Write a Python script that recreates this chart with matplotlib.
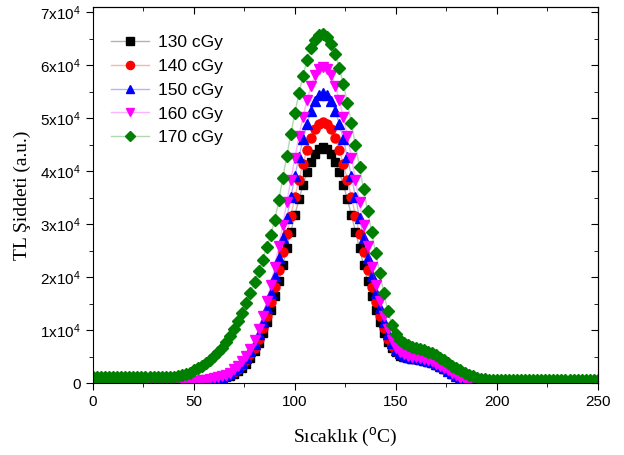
import matplotlib
matplotlib.use('Agg')
import matplotlib.pyplot as plt
import numpy as np
from matplotlib.ticker import MultipleLocator, FuncFormatter

plt.rcParams['font.family'] = ['Liberation Sans', 'DejaVu Sans']
plt.rcParams['mathtext.fontset'] = 'custom'
plt.rcParams['mathtext.rm'] = 'Liberation Sans'
plt.rcParams['mathtext.it'] = 'Liberation Sans'

# temperature (C), 2 degree steps
temp = np.arange(0, 251, 2)

# intensities in units of 1e3 a.u.
cgy130 = [0, 0, 0, 0, 0, 0, 0, 0, 0, 0,
          0, 0, 0, 0, 0, 0, 0, 0, 0, 0,
          0, 0, 0, 0, 0.0, 0.1, 0.2, 0.3, 0.4, 0.5,
          0.6, 0.7, 0.9, 1.1, 1.4, 1.8, 2.3, 2.9, 3.7, 4.7,
          6.0, 7.6, 9.4, 11.5, 13.8, 16.4, 19.3, 22.3, 25.4, 28.6,
          31.7, 34.7, 37.4, 39.8, 41.8, 43.3, 44.2, 44.5, 44.2, 43.3,
          41.8, 39.8, 37.4, 34.7, 31.7, 28.6, 25.4, 22.3, 19.3, 16.4,
          13.8, 11.5, 9.4, 7.8, 6.6, 5.8, 5.2, 4.9, 4.7, 4.6,
          4.5, 4.4, 4.2, 4.0, 3.8, 3.4, 3.0, 2.6, 2.2, 1.8,
          1.3, 0.8, 0.4, 0.1, 0, 0, 0, 0, 0, 0,
          0, 0, 0, 0, 0, 0, 0, 0, 0, 0,
          0, 0, 0, 0, 0, 0, 0, 0, 0, 0,
          0, 0, 0, 0, 0, 0]

cgy140 = [0, 0, 0, 0, 0, 0, 0, 0, 0, 0,
          0, 0, 0, 0, 0, 0, 0, 0, 0, 0,
          0, 0, 0, 0, 0.1, 0.2, 0.3, 0.4, 0.5, 0.6,
          0.7, 0.9, 1.1, 1.3, 1.7, 2.1, 2.7, 3.4, 4.3, 5.4,
          6.6, 8.4, 10.4, 12.7, 15.3, 18.1, 21.3, 24.7, 28.1, 31.6,
          35.1, 38.4, 41.4, 44.0, 46.2, 47.9, 48.9, 49.2, 48.9, 47.9,
          46.2, 44.0, 41.4, 38.4, 35.1, 31.6, 28.1, 24.7, 21.3, 18.1,
          15.3, 12.7, 10.4, 8.4, 7.0, 6.0, 5.4, 5.0, 4.8, 4.7,
          4.6, 4.5, 4.3, 4.1, 3.9, 3.5, 3.1, 2.7, 2.3, 1.8,
          1.3, 0.8, 0.4, 0.1, 0, 0, 0, 0, 0, 0,
          0, 0, 0, 0, 0, 0, 0, 0, 0, 0,
          0, 0, 0, 0, 0, 0, 0, 0, 0, 0,
          0, 0, 0, 0, 0, 0]

cgy150 = [0, 0, 0, 0, 0, 0, 0, 0, 0, 0,
          0, 0, 0, 0, 0, 0, 0, 0, 0, 0,
          0, 0, 0, 0, 0.1, 0.2, 0.3, 0.4, 0.5, 0.7,
          0.8, 1.0, 1.2, 1.5, 1.9, 2.4, 3.0, 3.8, 4.8, 6.0,
          7.4, 9.3, 11.6, 14.1, 17.0, 20.2, 23.7, 27.4, 31.2, 35.1,
          39.0, 42.6, 46.0, 48.9, 51.4, 53.2, 54.3, 54.7, 54.3, 53.2,
          51.4, 48.9, 46.0, 42.6, 39.0, 35.1, 31.2, 27.4, 23.7, 20.2,
          17.0, 14.1, 11.6, 9.3, 7.5, 6.3, 5.6, 5.2, 4.9, 4.8,
          4.7, 4.6, 4.4, 4.2, 4.0, 3.6, 3.2, 2.8, 2.3, 1.9,
          1.4, 0.9, 0.5, 0.1, 0, 0, 0, 0, 0, 0,
          0, 0, 0, 0, 0, 0, 0, 0, 0, 0,
          0, 0, 0, 0, 0, 0, 0, 0, 0, 0,
          0, 0, 0, 0, 0, 0]

cgy160 = [0, 0, 0, 0, 0, 0, 0, 0, 0, 0,
          0, 0, 0, 0, 0, 0, 0, 0, 0, 0,
          0, 0, 0, 0, 0.2, 0.3, 0.4, 0.5, 0.6, 0.8,
          0.9, 1.1, 1.3, 1.6, 2.0, 2.6, 3.3, 4.2, 5.2, 6.5,
          8.1, 10.2, 12.6, 15.4, 18.5, 22.0, 25.9, 29.9, 34.1, 38.4,
          42.5, 46.6, 50.2, 53.4, 56.1, 58.1, 59.3, 59.7, 59.3, 58.1,
          56.1, 53.4, 50.2, 46.6, 42.5, 38.4, 34.1, 29.9, 25.9, 22.0,
          18.5, 15.4, 12.6, 10.2, 8.1, 6.7, 5.9, 5.4, 5.1, 5.0,
          4.9, 4.8, 4.6, 4.4, 4.1, 3.7, 3.3, 2.9, 2.4, 2.0,
          1.5, 1.0, 0.5, 0.2, 0, 0, 0, 0, 0, 0,
          0, 0, 0, 0, 0, 0, 0, 0, 0, 0,
          0, 0, 0, 0, 0, 0, 0, 0, 0, 0,
          0, 0, 0, 0, 0, 0]

cgy170 = [1.1, 1.1, 1.1, 1.1, 1.1, 1.1, 1.1, 1.1, 1.1, 1.1,
          1.1, 1.1, 1.1, 1.1, 1.1, 1.1, 1.1, 1.1, 1.1, 1.1,
          1.2, 1.3, 1.5, 1.7, 2.0, 2.4, 2.8, 3.3, 3.8, 4.4,
          5.1, 5.8, 6.7, 7.7, 8.9, 10.2, 11.7, 13.3, 15.1, 17.0,
          19.0, 21.1, 23.3, 25.6, 28.0, 30.7, 34.5, 38.7, 42.9, 47.0,
          51.0, 54.7, 58.0, 60.9, 63.2, 64.8, 65.7, 65.9, 65.3, 64.0,
          62.1, 59.5, 56.4, 52.9, 49.0, 44.9, 40.8, 36.6, 32.5, 28.5,
          24.5, 20.8, 17.0, 13.6, 11.0, 9.2, 8.2, 7.6, 7.2, 6.9,
          6.7, 6.4, 6.2, 5.9, 5.7, 5.3, 4.8, 4.3, 3.8, 3.3,
          2.8, 2.4, 2.0, 1.6, 1.3, 1.0, 0.8, 0.7, 0.6, 0.5,
          0.5, 0.5, 0.5, 0.5, 0.5, 0.5, 0.5, 0.5, 0.5, 0.5,
          0.5, 0.5, 0.5, 0.5, 0.5, 0.5, 0.5, 0.5, 0.5, 0.5,
          0.5, 0.5, 0.5, 0.5, 0.5, 0.5]

labels = ['130 cGy', '140 cGy', '150 cGy', '160 cGy', '170 cGy']
series = [cgy130, cgy140, cgy150, cgy160, cgy170]
colors = ['black', 'red', 'blue', 'magenta', 'green']
markers = ['s', 'o', '^', 'v', 'D']
msizes = [6, 6.5, 7, 7, 6]

fig = plt.figure(figsize=(6.24, 4.55), dpi=100)
ax = fig.add_axes([0.149, 0.158, 0.809, 0.827])

for y, lab, c, m, ms in zip(series, labels, colors, markers, msizes):
    lc = matplotlib.colors.to_rgba(c, 0.3)
    ax.plot(temp, np.array(y) * 1000, color=lc, lw=1, marker=m, ms=ms,
            markerfacecolor=c, markeredgecolor=c, label=lab)

ax.set_xlim(0, 250)
ax.set_ylim(0, 71000)
ax.xaxis.set_major_locator(MultipleLocator(50))
ax.xaxis.set_minor_locator(MultipleLocator(25))
ax.yaxis.set_major_locator(MultipleLocator(10000))
ax.yaxis.set_minor_locator(MultipleLocator(5000))


def yfmt(v, pos):
    if v == 0:
        return '0'
    return '%dx10$^4$' % round(v / 10000)


ax.yaxis.set_major_formatter(FuncFormatter(yfmt))
ax.tick_params(which='both', direction='out', top=False, right=False, labelsize=11)
ax.tick_params(which='major', length=5)
ax.tick_params(which='minor', length=3)

# mirrored inward ticks on top/right
axt = ax.secondary_xaxis('top')
axt.xaxis.set_major_locator(MultipleLocator(50))
axt.xaxis.set_minor_locator(MultipleLocator(25))
axt.tick_params(which='both', direction='in', labeltop=False)
axt.tick_params(which='major', length=5)
axt.tick_params(which='minor', length=3)
axr = ax.secondary_yaxis('right')
axr.yaxis.set_major_locator(MultipleLocator(10000))
axr.yaxis.set_minor_locator(MultipleLocator(5000))
axr.tick_params(which='both', direction='in', labelright=False)
axr.tick_params(which='major', length=5)
axr.tick_params(which='minor', length=3)

ax.set_xlabel('Sıcaklık ($^{\\mathrm{o}}$C)', family='Liberation Serif', fontsize=14, labelpad=12)
ax.set_ylabel('TL Şiddeti (a.u.)', family='Liberation Serif', fontsize=14, labelpad=7)

ax.legend(loc='upper left', bbox_to_anchor=(0.005, 0.967), frameon=False,
          fontsize=12.5, handlelength=2.2, labelspacing=0.5, handletextpad=0.5,
          markerscale=0.9)

fig.savefig('out.png', dpi=100)
